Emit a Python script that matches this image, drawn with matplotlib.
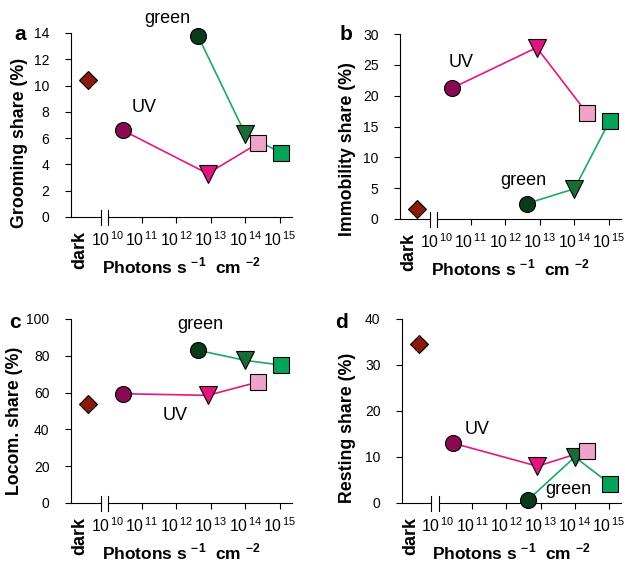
import matplotlib
matplotlib.use("Agg")
import matplotlib.pyplot as plt
import matplotlib.transforms as mtransforms

plt.rcParams['font.family'] = ['Liberation Sans', 'DejaVu Sans']
plt.rcParams['mathtext.fontset'] = 'custom'
plt.rcParams['mathtext.rm'] = 'Liberation Sans'
plt.rcParams['mathtext.bf'] = 'Liberation Sans:bold'

# light intensity of each stimulus (photons s-1 cm-2)
uv_photons = [2.8e10, 8.1e12, 2.3e14]
green_photons = [4.2e12, 1.0e14, 1.05e15]

# behaviour shares (%)
groom_dark = 10.4
groom_uv = [6.6, 3.3, 5.6]
groom_green = [13.8, 6.3, 4.9]

immob_dark = 1.6
immob_uv = [21.2, 27.8, 17.2]
immob_green = [2.5, 4.9, 15.9]

locom_dark = 54
locom_uv = [59.4, 58.5, 65.7]
locom_green = [83, 77.5, 75]

rest_dark = 34.5
rest_uv = [13.0, 8.0, 11.4]
rest_green = [0.6, 10.0, 4.2]

DARK_POS = 10 ** 9.45
XMIN, XMAX = 10 ** 8.95, 10 ** 15.35

uv_line = '#E5177E'
green_line = '#1BA964'
uv_cols = ['#8A0A52', '#E2157D', '#F0A3C9']
green_cols = ['#0B3A1B', '#1B6B36', '#05A35A']
markers = ['o', 'v', 's']
msize = {'o': 11.5, 'v': 13, 's': 11}

fig = plt.figure(figsize=(6.25, 5.73), dpi=100)
W, H = 625, 573


def add_ax(left, top, right, bottom):
    return fig.add_axes([left / W, 1 - bottom / H, (right - left) / W, (bottom - top) / H])


def panel(ax, dark, uv, green, ymax, yticks, ylabel, ylab_pos, uv_txt, green_txt):
    ax.plot(uv_photons, uv, color=uv_line, lw=1.2, zorder=2)
    ax.plot(green_photons, green, color=green_line, lw=1.2, zorder=2)
    for i in range(3):
        ax.plot(uv_photons[i], uv[i], marker=markers[i], ms=msize[markers[i]],
                mfc=uv_cols[i], mec='black', mew=0.8, ls='none', zorder=3, clip_on=False)
        ax.plot(green_photons[i], green[i], marker=markers[i], ms=msize[markers[i]],
                mfc=green_cols[i], mec='black', mew=0.8, ls='none', zorder=3, clip_on=False)
    ax.plot(DARK_POS, dark, marker='D', ms=9.5, mfc='#8B1A0E', mec='black', mew=0.8,
            ls='none', zorder=3, clip_on=False)

    ax.set_xscale('log')
    ax.set_xlim(XMIN, XMAX)
    ax.set_ylim(0, ymax)
    ax.set_yticks(yticks)
    ax.set_xticks([10 ** k for k in range(10, 16)])
    ax.set_xticklabels([r'10$^{\,%d}$' % k for k in range(10, 16)])
    ax.minorticks_off()
    ax.xaxis.get_major_ticks()[0].tick1line.set_visible(False)
    ax.tick_params(axis='y', direction='out', length=4.5, width=0.8, pad=11, labelsize=10)
    ax.tick_params(axis='x', direction='out', length=4.5, width=0.8, pad=5, labelsize=11.3)
    for s in ['top', 'right', 'bottom']:
        ax.spines[s].set_visible(False)
    ax.spines['left'].set_linewidth(0.8)

    # broken x axis
    tr = mtransforms.blended_transform_factory(ax.transData, ax.transAxes)
    b1, b2 = 10 ** 9.81, 10 ** 10.02
    ax.plot([XMIN, b1], [0, 0], color='black', lw=0.8, transform=tr, clip_on=False)
    ax.plot([b2, XMAX], [0, 0], color='black', lw=0.8, transform=tr, clip_on=False)
    for b in (b1, b2):
        ax.plot([b, b], [-0.045, 0.04], color='black', lw=0.8, transform=tr, clip_on=False)

    ax.text(10 ** 9.2, -0.075, 'dark', rotation=90, ha='center', va='top', fontsize=13,
            fontweight='bold', transform=tr)
    ax.set_xlabel(r'Photons s $^{\mathbf{-1}}$  cm $^{\mathbf{-2}}$', fontsize=12.5,
                  fontweight='bold', labelpad=5)
    ax.set_ylabel(ylabel, fontsize=12.8, fontweight='bold')
    ax.yaxis.set_label_coords(*ylab_pos)

    ax.text(uv_txt[0], uv_txt[1], 'UV', ha='center', va='center', fontsize=13, clip_on=False)
    ax.text(green_txt[0], green_txt[1], 'green', ha='center', va='center', fontsize=13,
            clip_on=False)


ax_a = add_ax(71, 33, 292, 217)
panel(ax_a, groom_dark, groom_uv, groom_green, 14, range(0, 15, 2), 'Grooming share (%)',
      (-0.195, 0.40), (10 ** 11.07, 8.3), (10 ** 11.75, 15.1))

ax_b = add_ax(400, 34, 621, 219)
panel(ax_b, immob_dark, immob_uv, immob_green, 30, range(0, 31, 5), 'Immobility share (%)',
      (-0.2, 0.38), (10 ** 10.72, 25.4), (10 ** 12.53, 6.3))

ax_c = add_ax(71, 319, 292, 503)
panel(ax_c, locom_dark, locom_uv, locom_green, 100, range(0, 101, 20), 'Locom. share (%)',
      (-0.217, 0.445), (10 ** 11.96, 47.8), (10 ** 12.7, 97.1))

ax_d = add_ax(402, 319, 621, 503)
panel(ax_d, rest_dark, rest_uv, rest_green, 40, range(0, 41, 10), 'Resting share (%)',
      (-0.21, 0.41), (10 ** 11.14, 16.0), (10 ** 13.81, 2.9))

for letter, px, py in [('a', 20, 35), ('b', 346, 35), ('c', 15, 323), ('d', 342, 322)]:
    fig.text(px / W, 1 - py / H, letter, fontsize=15, fontweight='bold', ha='center', va='center')

fig.savefig('out.png', dpi=100)
